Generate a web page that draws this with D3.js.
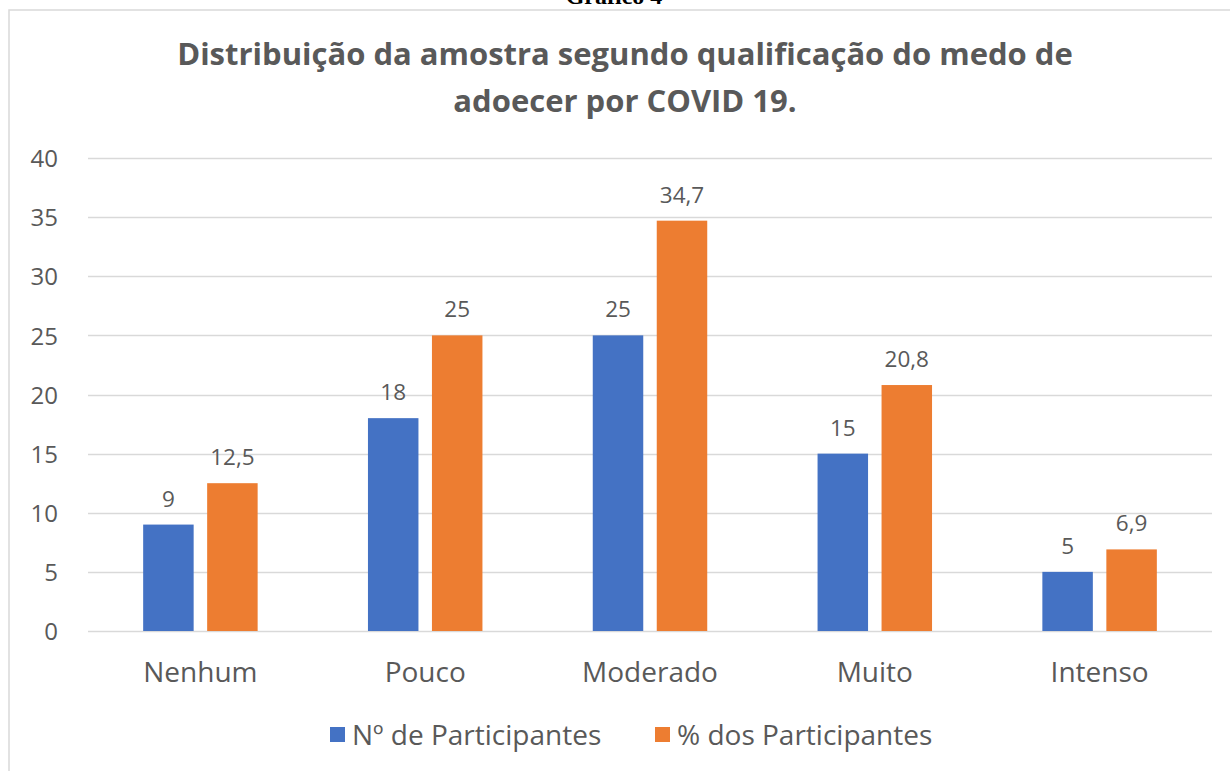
<!DOCTYPE html>
<html>
<head>
<meta charset="utf-8">
<script src="https://cdn.jsdelivr.net/npm/d3@7"></script>
<style>
  html, body { margin: 0; padding: 0; background: #fff; }
  .canvas { width: 1230px; height: 771px; overflow: hidden; }
  text { font-family: 'Open Sans', Lato, sans-serif; fill: #595959; }
</style>
</head>
<body>
<div class="canvas"></div>
<script>
const categories = ['Nenhum', 'Pouco', 'Moderado', 'Muito', 'Intenso'];
const seriesNames = ['Nº de Participantes', '% dos Participantes'];
const participantes = [9, 18, 25, 15, 5];
const percentuais = [12.5, 25, 34.7, 20.8, 6.9];
const yTicks = [0, 5, 10, 15, 20, 25, 30, 35, 40];
const titleLines = ['Distribuição da amostra segundo qualificação do medo de', 'adoecer por COVID 19.'];
const COLOR = { blue: '#4472C4', orange: '#ED7D31', grid: '#d9d9d9', text: '#595959' };

const W = 1230;
const H = 771;
const margin = { left: 88, right: 18, top: 158, bottom: 140 };

const svg = d3
  .select('.canvas')
  .append('svg')
  .attr('width', W)
  .attr('height', H);

// frame of the chart area (cut off at right and bottom)
svg
  .append('rect')
  .attr('x', 9)
  .attr('y', 10)
  .attr('width', W + 20)
  .attr('height', H + 20)
  .attr('fill', 'none')
  .attr('stroke', COLOR.grid)
  .attr('stroke-width', 1.5);

// caption above the chart, mostly clipped
svg
  .append('text')
  .attr('x', 614)
  .attr('y', 4)
  .attr('text-anchor', 'middle')
  .style('font-family', "'Liberation Serif', serif")
  .style('font-weight', 'bold')
  .style('font-size', '24px')
  .style('fill', '#000')
  .text('Gráfico 4');

svg
  .append('g')
  .attr('id', 'title')
  .selectAll('text')
  .data(titleLines)
  .join('text')
  .attr('x', 625)
  .attr('y', (d, i) => 65 + i * 47)
  .attr('text-anchor', 'middle')
  .style('font-weight', 'bold')
  .style('font-size', '31px')
  .text(d => d);

const x0 = d3
  .scaleBand()
  .domain(categories)
  .range([margin.left, W - margin.right]);

const x1 = d3
  .scaleBand()
  .domain(seriesNames)
  .range([0, x0.bandwidth()])
  .paddingInner(0.211)
  .paddingOuter(0.862);

const y = d3
  .scaleLinear()
  .domain([0, 40])
  .range([H - margin.bottom, margin.top]);

const color = d3.scaleOrdinal().domain(seriesNames).range([COLOR.blue, COLOR.orange]);

// gridlines
svg
  .append('g')
  .attr('id', 'grid')
  .selectAll('line')
  .data(yTicks)
  .join('line')
  .attr('x1', margin.left)
  .attr('x2', W - margin.right)
  .attr('y1', d => Math.round(y(d)) + 0.5)
  .attr('y2', d => Math.round(y(d)) + 0.5)
  .attr('stroke', COLOR.grid)
  .attr('stroke-width', 1.5);

// y axis labels
const yAxis = svg
  .append('g')
  .attr('transform', `translate(${margin.left - 30},0)`)
  .call(d3.axisLeft(y).tickValues(yTicks).tickSize(0).tickPadding(0));
yAxis.select('.domain').remove();
yAxis
  .selectAll('text')
  .style('font-family', null)
  .style('font-size', '24px')
  .attr('fill', COLOR.text)
  .attr('dy', '0.36em');

// x axis labels
const xAxis = svg
  .append('g')
  .attr('transform', `translate(0,${y(0)})`)
  .call(d3.axisBottom(x0).tickSize(0).tickPadding(31));
xAxis.select('.domain').remove();
xAxis
  .selectAll('text')
  .style('font-family', null)
  .style('font-size', '28px')
  .attr('fill', COLOR.text);

const rows = categories.map((c, i) => ({
  category: c,
  values: [
    { series: seriesNames[0], value: participantes[i] },
    { series: seriesNames[1], value: percentuais[i] },
  ],
}));

const fmt = v => String(v).replace('.', ',');

const groups = svg
  .append('g')
  .attr('id', 'bars')
  .selectAll('g')
  .data(rows)
  .join('g')
  .attr('transform', d => `translate(${x0(d.category)},0)`);

groups
  .selectAll('rect')
  .data(d => d.values)
  .join('rect')
  .attr('x', d => x1(d.series))
  .attr('y', d => y(d.value))
  .attr('width', x1.bandwidth())
  .attr('height', d => y(0) - y(d.value))
  .attr('fill', d => color(d.series));

groups
  .selectAll('text')
  .data(d => d.values)
  .join('text')
  .attr('x', d => x1(d.series) + x1.bandwidth() / 2)
  .attr('y', d => y(d.value) - 18)
  .attr('text-anchor', 'middle')
  .style('font-size', '22.5px')
  .text(d => fmt(d.value));

// legend
const legendX = [330, 655];
const legend = svg
  .append('g')
  .attr('id', 'legend')
  .selectAll('g')
  .data(seriesNames)
  .join('g')
  .attr('transform', (d, i) => `translate(${legendX[i]},727)`);

legend
  .append('rect')
  .attr('width', 15)
  .attr('height', 15)
  .attr('fill', d => color(d));

legend
  .append('text')
  .attr('x', 22)
  .attr('y', 18)
  .style('font-size', '28px')
  .text(d => d);
</script>
</body>
</html>
